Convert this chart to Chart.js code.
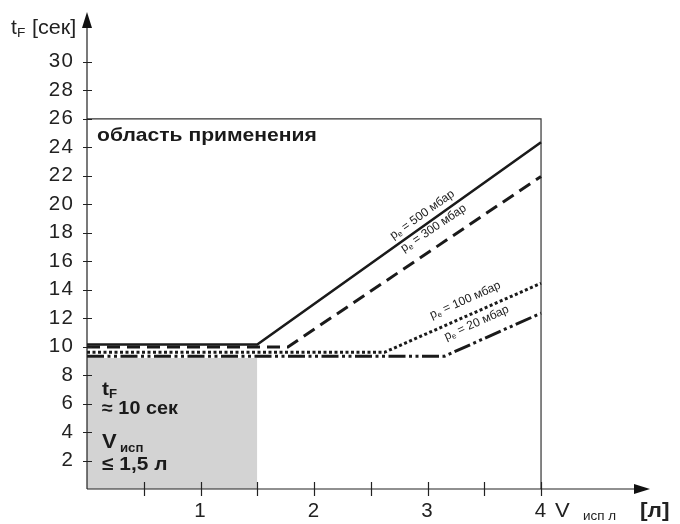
<!DOCTYPE html>
<html><head><meta charset="utf-8">
<script src="https://cdn.jsdelivr.net/npm/chart.js@4.4.1/dist/chart.umd.min.js"></script>
<style>html,body{margin:0;padding:0;background:#fff}canvas{display:block}</style>
</head><body>
<canvas id="c" width="680" height="524"></canvas>
<script>
// ---- data ----
const yTickValues = [2,4,6,8,10,12,14,16,18,20,22,24,26,28,30];
const xTickValues = [1,2,3,4];
const xMinorTicks = [0.5,1,1.5,2,2.5,3,3.5,4];
const series500 = [{x:0,y:10.15},{x:1.5,y:10.15},{x:4,y:24.35}];
const series300 = [{x:0,y:9.98},{x:1.77,y:9.98},{x:4,y:21.95}];
const series100 = [{x:0,y:9.6},{x:2.62,y:9.6},{x:4,y:14.45}];
const series20  = [{x:0,y:9.33},{x:3.15,y:9.33},{x:4,y:12.35}];
const grayRegion = [{x:0,y:9.2},{x:1.5,y:9.2}];
const frameLine = [{x:0,y:26},{x:4,y:26},{x:4,y:0}];
const seriesLabels = ["500","300","100","20"];
const labelAnchors = [{x:2.95,y:19.3},{x:3.05,y:18.35},{x:3.33,y:13.3},{x:3.43,y:11.7}];

const FONT = "'Liberation Sans', Arial, Helvetica, sans-serif";
const INK = '#1a1a1a';

// draw text widened horizontally (reference face is wider than Liberation Sans)
function txt(ctx, s, x, y, font, sx){
  ctx.save(); ctx.font = font; ctx.translate(x, y); ctx.scale(sx||1, 1); ctx.fillText(s, 0, 0); ctx.restore();
}

const spacing = {
  id:'spacing',
  beforeDraw(chart){ chart.ctx.letterSpacing = '1.2px'; },
  afterDatasetsDraw(chart){ chart.ctx.letterSpacing = '0px'; }
};

const annot = {
  id:'annot',
  afterDatasetsDraw(chart){
    const {ctx, chartArea:a, scales:{x,y}} = chart;
    ctx.save();
    ctx.letterSpacing='0px';
    // axes
    ctx.strokeStyle = '#222'; ctx.lineWidth = 1.2;
    ctx.beginPath();
    ctx.moveTo(a.left, a.bottom); ctx.lineTo(a.left, a.top+14);
    ctx.moveTo(a.left, a.bottom); ctx.lineTo(a.right-14, a.bottom);
    ctx.stroke();
    ctx.fillStyle = '#111';
    ctx.beginPath(); // up arrow
    ctx.moveTo(a.left, a.top); ctx.lineTo(a.left-5, a.top+16); ctx.lineTo(a.left+5, a.top+16); ctx.closePath(); ctx.fill();
    ctx.beginPath(); // right arrow
    ctx.moveTo(a.right, a.bottom); ctx.lineTo(a.right-16, a.bottom-5); ctx.lineTo(a.right-16, a.bottom+5); ctx.closePath(); ctx.fill();
    // ticks
    ctx.beginPath();
    yTickValues.forEach(v=>{const py=Math.round(y.getPixelForValue(v))+0.5; ctx.moveTo(a.left-4,py); ctx.lineTo(a.left+5,py);});
    xMinorTicks.forEach(v=>{const px=Math.round(x.getPixelForValue(v))+0.5; ctx.moveTo(px,a.bottom-7); ctx.lineTo(px,a.bottom+7);});
    ctx.stroke();

    // series labels
    const sets = [series500, series300, series100, series20];
    sets.forEach((s,i)=>{
      const p1 = s[1], p2 = s[2];
      const ang = Math.atan2(y.getPixelForValue(p2.y)-y.getPixelForValue(p1.y), x.getPixelForValue(p2.x)-x.getPixelForValue(p1.x));
      const cx = x.getPixelForValue(labelAnchors[i].x), cy = y.getPixelForValue(labelAnchors[i].y);
      ctx.save();
      ctx.translate(cx, cy); ctx.rotate(ang);
      ctx.fillStyle = '#222'; ctx.textBaseline = 'alphabetic';
      const f1 = `12px ${FONT}`, f2 = `8px ${FONT}`;
      const rest = ' = ' + seriesLabels[i] + ' мбар';
      ctx.font = f1; const wp = ctx.measureText('p').width, wr = ctx.measureText(rest).width;
      ctx.font = f2; const we = ctx.measureText('e').width;
      let sx = -(wp+we+wr)/2;
      ctx.font = f1; ctx.textAlign='left'; ctx.fillText('p', sx, 4); sx += wp;
      ctx.font = f2; ctx.fillText('e', sx, 6); sx += we;
      ctx.font = f1; ctx.fillText(rest, sx, 4);
      ctx.restore();
    });

    // region texts
    ctx.fillStyle = INK; ctx.textAlign='left'; ctx.textBaseline='alphabetic';
    txt(ctx, 'область применения', x.getPixelForValue(0)+10, y.getPixelForValue(26)+22, `bold 19px ${FONT}`, 1.11);
    const lx = x.getPixelForValue(0)+15;
    txt(ctx, 't', lx, 395, `bold 19px ${FONT}`, 1.1);
    txt(ctx, 'F', lx+7, 398, `bold 12px ${FONT}`, 1.1);
    txt(ctx, '≈ 10 сек', lx, 414, `bold 18px ${FONT}`, 1.1);
    txt(ctx, 'V', lx, 448, `bold 20px ${FONT}`, 1.1);
    txt(ctx, 'исп', lx+18, 452, `bold 12px ${FONT}`, 1.1);
    txt(ctx, '≤ 1,5 л', lx, 470, `bold 19px ${FONT}`, 1.1);

    // axis titles
    ctx.fillStyle = '#222';
    txt(ctx, 't', 11, 34, `20px ${FONT}`, 1.05);
    txt(ctx, 'F', 17, 37, `13px ${FONT}`, 1.05);
    txt(ctx, '[сек]', 32, 34, `20px ${FONT}`, 1.08);
    txt(ctx, 'V', 555, 517, `21px ${FONT}`, 1.05);
    txt(ctx, 'исп л', 583, 520, `12px ${FONT}`, 1.12);
    txt(ctx, '[л]', 640, 517, `bold 21px ${FONT}`, 1.08);
    ctx.restore();
  }
};

const lineDs = (data, dash, order, w) => ({data, borderColor:INK, borderWidth:w, borderDash:dash, borderCapStyle:'butt', borderJoinStyle:'miter', pointRadius:0, tension:0, fill:false, order});

new Chart(document.getElementById('c'), {
  type:'line',
  data:{datasets:[
    lineDs(series500, [], 1, 2.6),
    lineDs(series300, [13,7], 2, 3),
    lineDs(series100, [3,2.5], 3, 3),
    lineDs(series20, [17,3.5,3,3.5,3,3.5], 4, 3),
    {data:frameLine, borderColor:'#333', borderWidth:1.2, pointRadius:0, fill:false, order:8},
    {data:grayRegion, borderWidth:0, borderColor:'rgba(0,0,0,0)', backgroundColor:'#d3d3d3', pointRadius:0, fill:'origin', order:9}
  ]},
  options:{
    responsive:false, animation:false, devicePixelRatio:1,
    layout:{padding:{top:12,right:30,left:0,bottom:0}},
    plugins:{legend:{display:false}, tooltip:{enabled:false}},
    scales:{
      x:{type:'linear', min:0, max:4.96,
        grid:{display:false, drawTicks:false}, border:{display:false},
        afterFit(s){s.height=35; s.paddingLeft=0; s.paddingRight=0;},
        afterBuildTicks(s){s.ticks = xTickValues.map(v=>({value:v}));},
        ticks:{color:'#222', font:{family:FONT, size:20.5}, padding:10, maxRotation:0}
      },
      y:{type:'linear', min:0, max:33.5,
        grid:{display:false, drawTicks:false}, border:{display:false},
        afterFit(s){s.width=87; s.paddingTop=0; s.paddingBottom=0;},
        afterBuildTicks(s){s.ticks = yTickValues.map(v=>({value:v}));},
        ticks:{color:'#222', font:{family:FONT, size:20.5}, padding:13}
      }
    }
  },
  plugins:[spacing, annot]
});
</script>
</body></html>
